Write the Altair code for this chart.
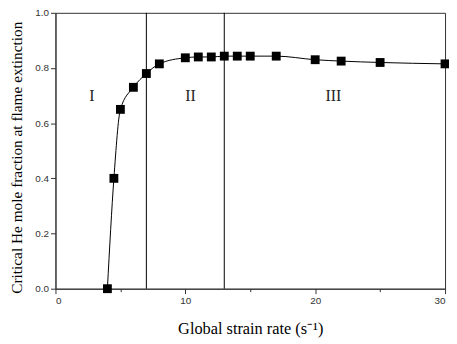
import altair as alt
import pandas as pd

strain = [4, 4.5, 5, 6, 7, 8, 10, 11, 12, 13, 14, 15, 17, 20, 22, 25, 30]
he_frac = [0.0, 0.40, 0.65, 0.73, 0.78, 0.815, 0.837, 0.840, 0.840, 0.843, 0.843, 0.843, 0.843, 0.830, 0.825, 0.820, 0.815]
boundaries = [7, 13]
region_labels = ["I", "II", "III"]
region_x = [2.8, 10.4, 21.4]
region_y = [0.70, 0.70, 0.70]

df = pd.DataFrame({"x": strain, "y": he_frac})
bdf = pd.DataFrame({"x": boundaries, "y0": [0, 0], "y1": [1, 1]})
ldf = pd.DataFrame({"label": region_labels, "x": region_x, "y": region_y})

serif = "Liberation Serif"
sans = "Liberation Sans"

xscale = alt.Scale(domain=[0, 30], nice=False, zero=False)
yscale = alt.Scale(domain=[0, 1], nice=False)

xaxis = alt.Axis(
    values=[0, 5, 10, 15, 20, 25, 30],
    labelExpr="datum.value % 10 === 0 ? datum.label : ''",
    tickSize={"condition": {"test": "datum.value % 10 === 0", "value": 5}, "value": 3},
    title="Global strain rate (s⁻¹)",
    titleFont=serif, titleFontSize=16.5, titleFontWeight="normal", titleColor="#000",
    labelFont=sans, labelFontSize=10, labelColor="#333",
    grid=False, domainColor="#333", tickColor="#333", titlePadding=15,
)
yaxis = alt.Axis(
    values=[round(i * 0.1, 1) for i in range(11)],
    labelExpr="round(datum.value*10) % 2 === 0 ? format(datum.value, '.1f') : ''",
    tickSize={"condition": {"test": "round(datum.value*10) % 2 === 0", "value": 5}, "value": 3},
    title="Critical He mole fraction at flame extinction",
    titleFont=serif, titleFontSize=15.5, titleFontWeight="normal", titleColor="#000",
    labelFont=sans, labelFontSize=10, labelColor="#333",
    grid=False, domainColor="#333", tickColor="#333", titlePadding=10,
    titleY=146,
)

line = alt.Chart(df).mark_line(color="black", strokeWidth=1, interpolate="monotone").encode(
    x=alt.X("x:Q", scale=xscale, axis=xaxis),
    y=alt.Y("y:Q", scale=yscale, axis=yaxis),
)
pts = alt.Chart(df).mark_square(color="black", size=80, opacity=1).encode(
    x=alt.X("x:Q", scale=xscale), y=alt.Y("y:Q", scale=yscale)
)
rules = alt.Chart(bdf).mark_rule(color="black", strokeWidth=1).encode(
    x=alt.X("x:Q", scale=xscale), y=alt.Y("y0:Q", scale=yscale), y2="y1:Q"
)
labels = alt.Chart(ldf).mark_text(font=serif, fontSize=16, color="#222").encode(
    x=alt.X("x:Q", scale=xscale), y=alt.Y("y:Q", scale=yscale), text="label:N"
)

chart = alt.layer(rules, line, pts, labels).properties(
    width=394, height=279,
    autosize=alt.AutoSizeParams(type="none"),
    padding={"left": 48, "top": 3, "right": 4, "bottom": 50},
    background="white",
).configure_view(stroke="#333", strokeWidth=1)

chart.save("out.html", embed_options={"renderer": "svg", "actions": False})
